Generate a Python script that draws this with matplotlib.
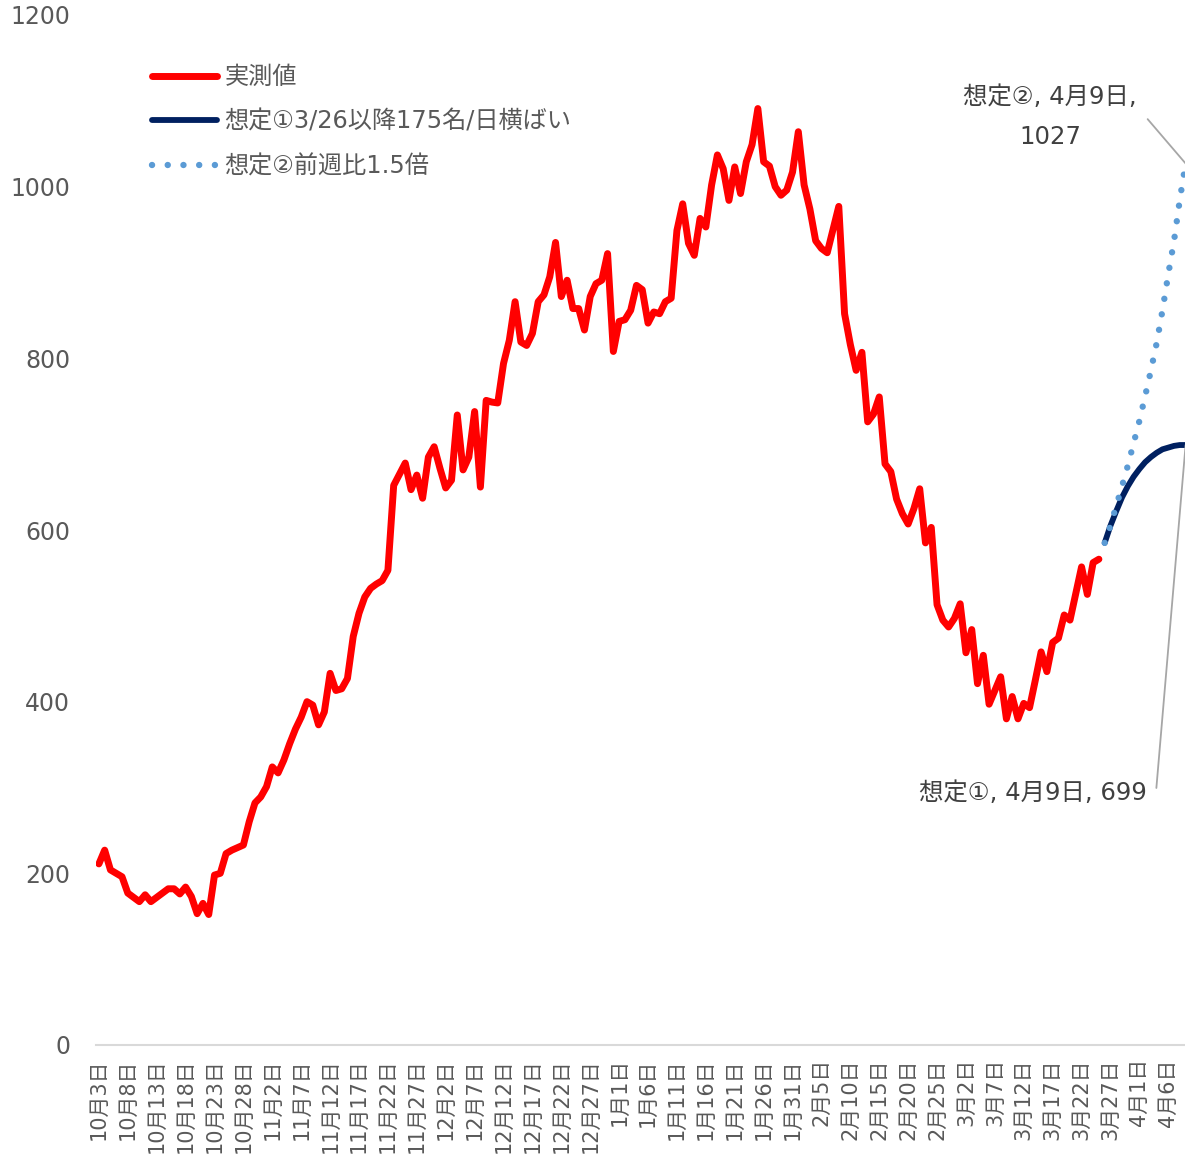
import matplotlib
matplotlib.use("Agg")
import matplotlib.pyplot as plt
from matplotlib.lines import Line2D

plt.rcParams['font.family'] = ['DejaVu Sans', 'Noto Sans CJK JP']

# ---- data -------------------------------------------------------------
# daily categories 10/3 .. 4/9 (189 days)
n_days = 189
tick_labels = ['10月3日', '10月8日', '10月13日', '10月18日', '10月23日', '10月28日',
               '11月2日', '11月7日', '11月12日', '11月17日', '11月22日', '11月27日',
               '12月2日', '12月7日', '12月12日', '12月17日', '12月22日', '12月27日',
               '1月1日', '1月6日', '1月11日', '1月16日', '1月21日', '1月26日', '1月31日',
               '2月5日', '2月10日', '2月15日', '2月20日', '2月25日',
               '3月2日', '3月7日', '3月12日', '3月17日', '3月22日', '3月27日',
               '4月1日', '4月6日']

actual = [211, 227, 204, 200, 196, 177, 172, 167, 175, 167,
          172, 177, 182, 182, 176, 184, 173, 153, 165, 152,
          198, 200, 223, 227, 230, 233, 260, 282, 289, 301,
          324, 317, 332, 351, 368, 382, 400, 396, 373, 388,
          433, 413, 415, 427, 476, 503, 522, 532, 537, 541,
          553, 652, 665, 678, 647, 664, 637, 685, 697, 672,
          649, 658, 734, 670, 685, 738, 650, 751, 749, 748,
          794, 821, 866, 819, 815, 829, 866, 874, 895, 935,
          872, 891, 858, 858, 833, 872, 887, 891, 922, 808,
          843, 845, 856, 885, 880, 841, 854, 852, 866, 870,
          949, 980, 934, 920, 963, 953, 1002, 1037, 1021, 984,
          1023, 992, 1029, 1049, 1091, 1029, 1024, 1000, 990, 996,
          1017, 1064, 1002, 974, 937, 928, 923, 950, 977, 852,
          816, 786, 807, 726, 735, 755, 677, 668, 636, 619,
          607, 625, 648, 585, 603, 513, 495, 487, 497, 514,
          457, 484, 421, 454, 397, 413, 429, 380, 406, 380,
          398, 393, 425, 458, 435, 469, 474, 501, 495, 526,
          557, 525, 562, 566]

# projections 3/26 .. 4/9
scenario1 = [585, 605, 622, 638, 651, 662, 671, 679, 685, 690, 694, 696, 698, 699, 699]
scenario2 = [585, 605, 628, 651, 675, 701, 727, 756, 786, 818, 856, 898, 937, 985, 1027]

labels = ['実測値', '想定①3/26以降175名/日横ばい', '想定②前週比1.5倍']
colors = ['#FF0000', '#002060', '#5B9BD5']

# ---- figure -----------------------------------------------------------
W, H = 1185, 1159
fig = plt.figure(figsize=(W / 100, H / 100), dpi=100)
ax = fig.add_axes([96 / W, 114 / H, 1092.5 / W, 1030 / H])

x_act = list(range(len(actual)))
x_proj = list(range(len(actual), len(actual) + len(scenario1)))

ax.plot(x_act, actual, color=colors[0], lw=5.0, solid_capstyle='round',
        solid_joinstyle='round', zorder=3)
ax.plot(x_proj, scenario1, color=colors[1], lw=4.2, solid_capstyle='round',
        solid_joinstyle='round', zorder=3)
ax.plot(x_proj, scenario2, color=colors[2], lw=4.6, linestyle=(0, (0.01, 2.45)),
        dash_capstyle='round', zorder=4)

ax.set_xlim(-0.5, n_days - 0.5)
ax.set_ylim(0, 1200)

for s in ['top', 'right', 'left']:
    ax.spines[s].set_visible(False)
ax.spines['bottom'].set_color('#d9d9d9')
ax.spines['bottom'].set_linewidth(1.5)

ax.set_yticks(range(0, 1201, 200))
ax.tick_params(axis='y', length=0, pad=18.5, labelsize=17, labelcolor='#595959')
ax.set_xticks(range(0, n_days, 5))
ax.set_xticklabels(tick_labels, rotation=90)
ax.tick_params(axis='x', length=0, pad=9.5, labelsize=15, labelcolor='#595959')

handles = [
    Line2D([], [], color=colors[0], lw=5.0, solid_capstyle='round'),
    Line2D([], [], color=colors[1], lw=4.2, solid_capstyle='round'),
    Line2D([], [], color=colors[2], lw=4.6, linestyle=(0, (0.01, 2.45)),
           dash_capstyle='round'),
]
ax.legend(handles, labels, loc='upper left', bbox_to_anchor=(152 / W, 1 - 65 / H),
          bbox_transform=fig.transFigure, frameon=False, fontsize=17.4,
          handlelength=2.7, handletextpad=0.3, labelspacing=0.86,
          borderpad=0, borderaxespad=0, labelcolor='#595959')

leader = dict(arrowstyle='-', color='#a6a6a6', lw=1.3, shrinkA=6, shrinkB=0,
              relpos=(1, 0.5),
              connectionstyle='arc,angleA=0,armA=9,angleB=0,armB=0,rad=0')
ax.annotate('想定②, 4月9日,\n1027', xy=(x_proj[-1], scenario2[-1]), xycoords='data',
            xytext=(1050 / W, 1 - 117 / H), textcoords='figure fraction',
            ha='center', va='center', multialignment='center', fontsize=17.6,
            color='#404040', linespacing=1.85, arrowprops=leader, annotation_clip=False)
ax.annotate('想定①, 4月9日, 699', xy=(x_proj[-1], scenario1[-1]), xycoords='data',
            xytext=(1033 / W, 1 - 793 / H), textcoords='figure fraction',
            ha='center', va='center', fontsize=17.6,
            color='#404040', arrowprops=leader, annotation_clip=False)

fig.savefig('out.png', dpi=100)
